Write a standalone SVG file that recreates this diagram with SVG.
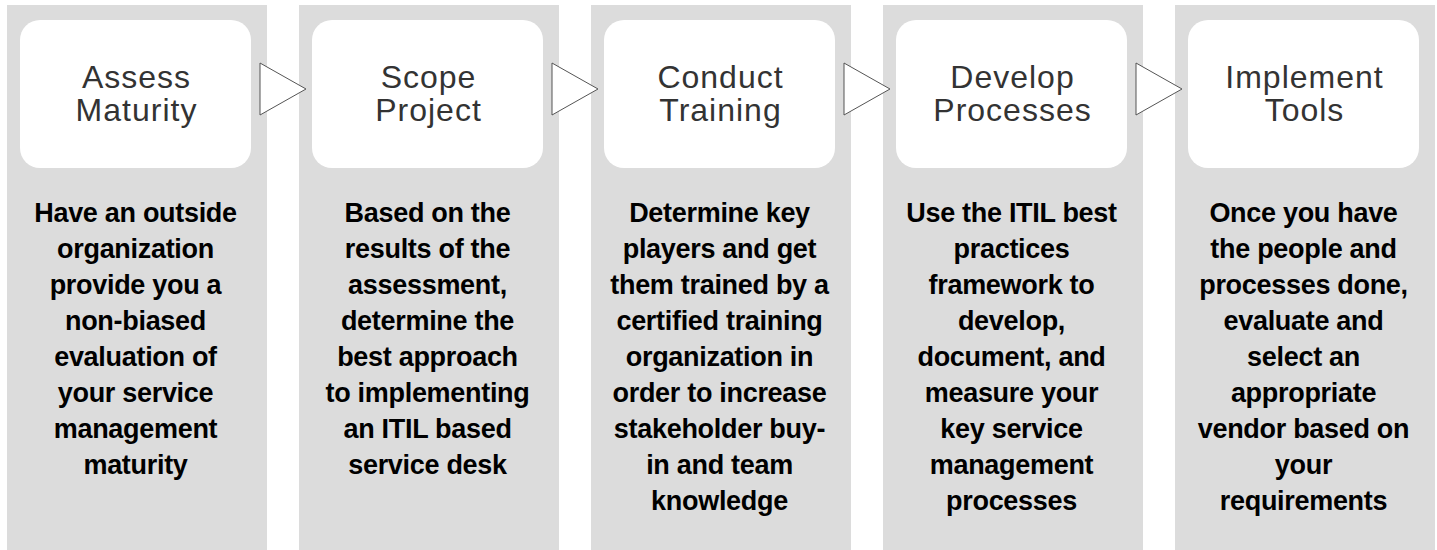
<svg xmlns="http://www.w3.org/2000/svg" width="1437" height="550" viewBox="0 0 1437 550">
<style>
.col{fill:#dcdcdc}
.box{fill:#ffffff}
.title{font-family:"Liberation Sans",Arial,sans-serif;font-size:32px;fill:#333333;text-anchor:middle;letter-spacing:1px}
.body{font-family:"Liberation Sans",Arial,sans-serif;font-size:27px;font-weight:bold;fill:#000000;text-anchor:middle;letter-spacing:-0.3px}
.arrow{fill:#ffffff;stroke:#555555;stroke-width:1}
</style>
<rect width="1437" height="550" fill="#ffffff"/>
<g id="step1">
<rect class="col" x="7" y="5" width="260" height="545"/>
<rect class="box" x="20" y="20" width="231" height="148" rx="20"/>
<text class="title"><tspan x="136.5" y="88">Assess</tspan><tspan x="136.5" y="121">Maturity</tspan></text>
<text class="body"><tspan x="135.5" y="222">Have an outside</tspan><tspan x="135.5" y="258">organization</tspan><tspan x="135.5" y="294">provide you a</tspan><tspan x="135.5" y="330">non-biased</tspan><tspan x="135.5" y="366">evaluation of</tspan><tspan x="135.5" y="402">your service</tspan><tspan x="135.5" y="438">management</tspan><tspan x="135.5" y="474">maturity</tspan></text>
</g>
<g id="step2">
<rect class="col" x="299" y="5" width="260" height="545"/>
<rect class="box" x="312" y="20" width="231" height="148" rx="20"/>
<text class="title"><tspan x="428.5" y="88">Scope</tspan><tspan x="428.5" y="121">Project</tspan></text>
<text class="body"><tspan x="427.5" y="222">Based on the</tspan><tspan x="427.5" y="258">results of the</tspan><tspan x="427.5" y="294">assessment,</tspan><tspan x="427.5" y="330">determine the</tspan><tspan x="427.5" y="366">best approach</tspan><tspan x="427.5" y="402">to implementing</tspan><tspan x="427.5" y="438">an ITIL based</tspan><tspan x="427.5" y="474">service desk</tspan></text>
</g>
<g id="step3">
<rect class="col" x="591" y="5" width="260" height="545"/>
<rect class="box" x="604" y="20" width="231" height="148" rx="20"/>
<text class="title"><tspan x="720.5" y="88">Conduct</tspan><tspan x="720.5" y="121">Training</tspan></text>
<text class="body"><tspan x="719.5" y="222">Determine key</tspan><tspan x="719.5" y="258">players and get</tspan><tspan x="719.5" y="294">them trained by a</tspan><tspan x="719.5" y="330">certified training</tspan><tspan x="719.5" y="366">organization in</tspan><tspan x="719.5" y="402">order to increase</tspan><tspan x="719.5" y="438">stakeholder buy-</tspan><tspan x="719.5" y="474">in and team</tspan><tspan x="719.5" y="510">knowledge</tspan></text>
</g>
<g id="step4">
<rect class="col" x="883" y="5" width="260" height="545"/>
<rect class="box" x="896" y="20" width="231" height="148" rx="20"/>
<text class="title"><tspan x="1012.5" y="88">Develop</tspan><tspan x="1012.5" y="121">Processes</tspan></text>
<text class="body"><tspan x="1011.5" y="222">Use the ITIL best</tspan><tspan x="1011.5" y="258">practices</tspan><tspan x="1011.5" y="294">framework to</tspan><tspan x="1011.5" y="330">develop,</tspan><tspan x="1011.5" y="366">document, and</tspan><tspan x="1011.5" y="402">measure your</tspan><tspan x="1011.5" y="438">key service</tspan><tspan x="1011.5" y="474">management</tspan><tspan x="1011.5" y="510">processes</tspan></text>
</g>
<g id="step5">
<rect class="col" x="1175" y="5" width="260" height="545"/>
<rect class="box" x="1188" y="20" width="231" height="148" rx="20"/>
<text class="title"><tspan x="1304.5" y="88">Implement</tspan><tspan x="1304.5" y="121">Tools</tspan></text>
<text class="body"><tspan x="1303.5" y="222">Once you have</tspan><tspan x="1303.5" y="258">the people and</tspan><tspan x="1303.5" y="294">processes done,</tspan><tspan x="1303.5" y="330">evaluate and</tspan><tspan x="1303.5" y="366">select an</tspan><tspan x="1303.5" y="402">appropriate</tspan><tspan x="1303.5" y="438">vendor based on</tspan><tspan x="1303.5" y="474">your</tspan><tspan x="1303.5" y="510">requirements</tspan></text>
</g>
<g id="connectors">
<polygon class="arrow" points="260,63 306,89 260,115"/>
<polygon class="arrow" points="552,63 598,89 552,115"/>
<polygon class="arrow" points="844,63 890,89 844,115"/>
<polygon class="arrow" points="1136,63 1182,89 1136,115"/>
</g>
</svg>
